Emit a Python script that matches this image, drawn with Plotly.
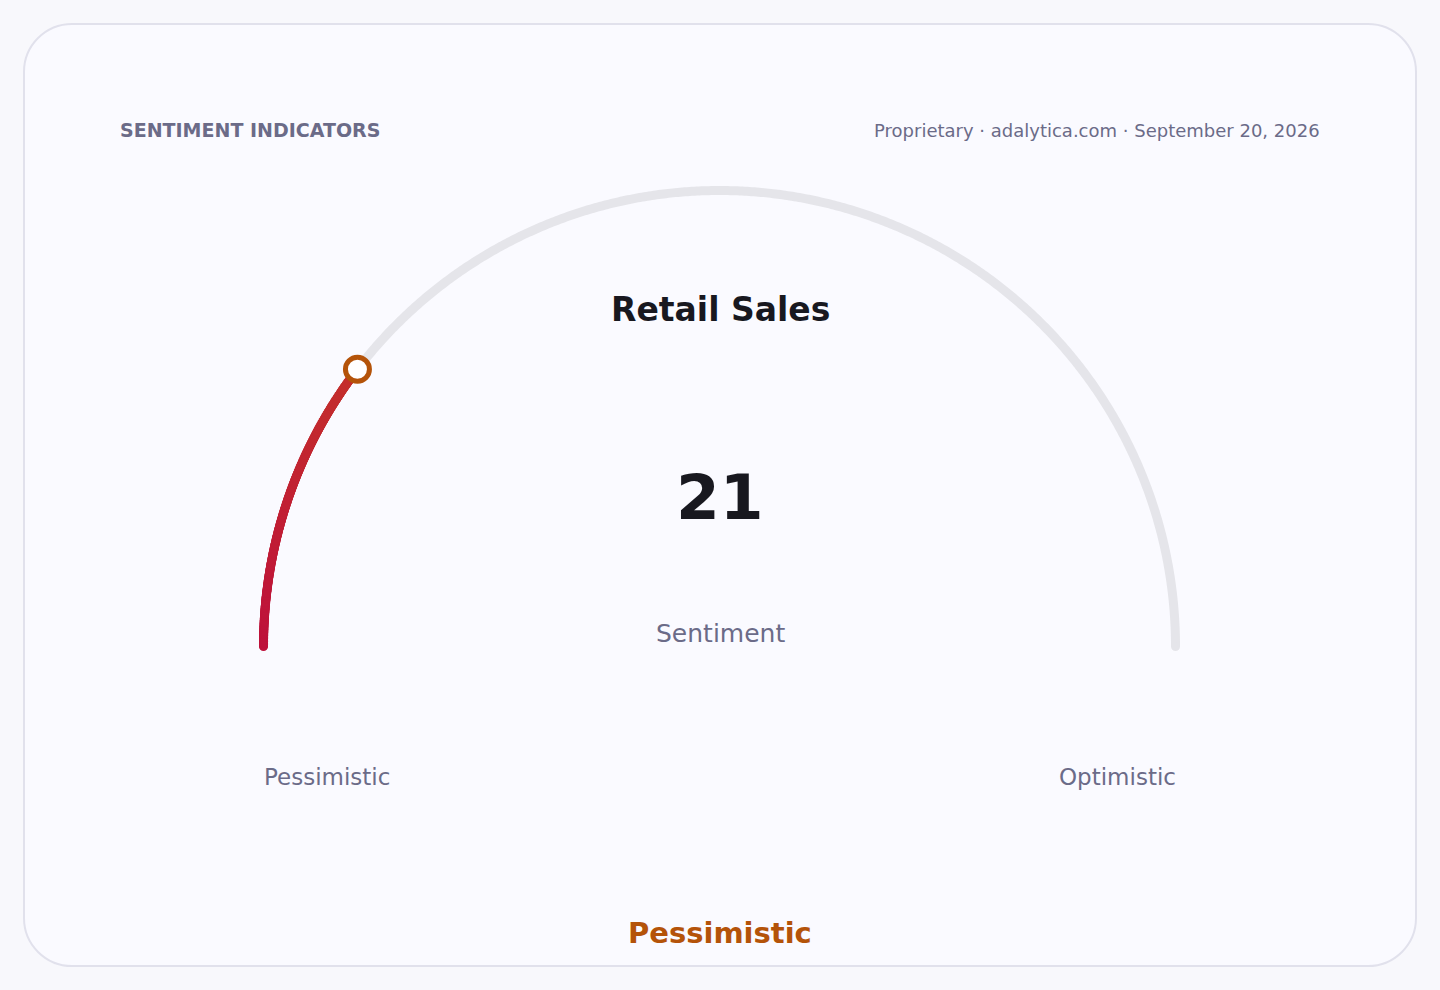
import numpy as np
import plotly.graph_objects as go

W, H = 1440, 990

# ---- chart data ----
indicator_group = "SENTIMENT INDICATORS"
source_line = "Proprietary · adalytica.com · September 20, 2026"
indicator_name = "Retail Sales"
metric_label = "Sentiment"
sentiment_value = 20.8   # shown rounded
scale_range = [0, 100]
scale_end_labels = ["Pessimistic", "Optimistic"]
verdict = "Pessimistic"

# colours of the filled arc, low end -> value end
fill_from = "#be123c"
fill_to = "#c4302c"
track_color = "#e5e5ea"
pointer_color = "#b45309"
muted = "#6b6b88"
ink = "#18181f"
FONT = "DejaVu Sans"

# gauge geometry (pixels, y measured upward)
cx, cy, R = 719.5, H - 646.5, 456
ARC_W = 9


def to_xy(v):
    lo, hi = scale_range
    theta = np.pi * (1 - (np.asarray(v, dtype=float) - lo) / (hi - lo))
    return cx + R * np.cos(theta), cy + R * np.sin(theta)


def mix(c1, c2, t):
    a = np.array([int(c1[i:i + 2], 16) for i in (1, 3, 5)])
    b = np.array([int(c2[i:i + 2], 16) for i in (1, 3, 5)])
    c = (a + (b - a) * t).round().astype(int)
    return f"rgb({c[0]},{c[1]},{c[2]})"


fig = go.Figure()

# grey track
tv = np.linspace(scale_range[0], scale_range[1], 600)
tx, ty = to_xy(tv)
fig.add_trace(go.Scatter(x=tx, y=ty, mode="lines",
                         line=dict(color=track_color, width=ARC_W, simplify=False),
                         hoverinfo="skip"))
ex, ey = to_xy([scale_range[1]])
fig.add_trace(go.Scatter(x=ex, y=ey, mode="markers",
                         marker=dict(size=ARC_W, color=track_color, line=dict(width=0)),
                         hoverinfo="skip"))

# filled part, drawn as dense dots so it gets a gradient and round ends
fv = np.linspace(scale_range[0], sentiment_value, 400)
fx, fy = to_xy(fv)
fcols = [mix(fill_from, fill_to, t) for t in np.linspace(0, 1, len(fv))]
fig.add_trace(go.Scatter(x=fx, y=fy, mode="markers",
                         marker=dict(size=ARC_W, color=fcols, line=dict(width=0)),
                         hoverinfo="skip"))

# pointer
px_, py_ = to_xy([sentiment_value])
fig.add_trace(go.Scatter(x=px_, y=py_, mode="markers",
                         marker=dict(size=24, color="white",
                                     line=dict(color=pointer_color, width=5)),
                         hoverinfo="skip"))

# card
x0, x1, y0, y1, r = 24, 1416, H - 966, H - 24, 48
k = r * 0.4477
card_path = (f"M {x0+r},{y0} L {x1-r},{y0} C {x1-k},{y0} {x1},{y0+k} {x1},{y0+r} "
             f"L {x1},{y1-r} C {x1},{y1-k} {x1-k},{y1} {x1-r},{y1} "
             f"L {x0+r},{y1} C {x0+k},{y1} {x0},{y1-k} {x0},{y1-r} "
             f"L {x0},{y0+r} C {x0},{y0+k} {x0+k},{y0} {x0+r},{y0} Z")
fig.add_shape(type="path", path=card_path, xref="x", yref="y", layer="below",
              fillcolor="#fafaff", line=dict(color="#e1e1ec", width=2))


def label(text, x, y, size, color, anchor="center", bold=False):
    fig.add_annotation(x=x, y=H - y, xref="x", yref="y", text=f"<b>{text}</b>" if bold else text,
                       showarrow=False, xanchor=anchor, yanchor="middle",
                       font=dict(family=FONT, size=size, color=color))


label(indicator_group, 118, 130, 19, muted, "left", bold=True)
label(source_line, 1322, 130, 18, muted, "right")
label(indicator_name, 720, 309, 33, ink, bold=True)
label(f"{sentiment_value:.0f}", 720, 497, 63, ink, bold=True)
label(metric_label, 720, 633, 25, muted)
label(scale_end_labels[0], 262, 777, 23, muted, "left")
label(scale_end_labels[1], 1178, 777, 23, muted, "right")
label(verdict, 720, 933, 29, pointer_color, bold=True)

fig.update_layout(
    width=W, height=H,
    margin=dict(l=0, r=0, t=0, b=0),
    paper_bgcolor="#f8f8fc", plot_bgcolor="#f8f8fc",
    showlegend=False,
    xaxis=dict(range=[0, W], visible=False, fixedrange=True),
    yaxis=dict(range=[0, H], visible=False, fixedrange=True),
)

fig.write_html("out.html", config={"displayModeBar": False},
               post_script="document.body.style.margin='0';document.body.style.overflow='hidden';")
